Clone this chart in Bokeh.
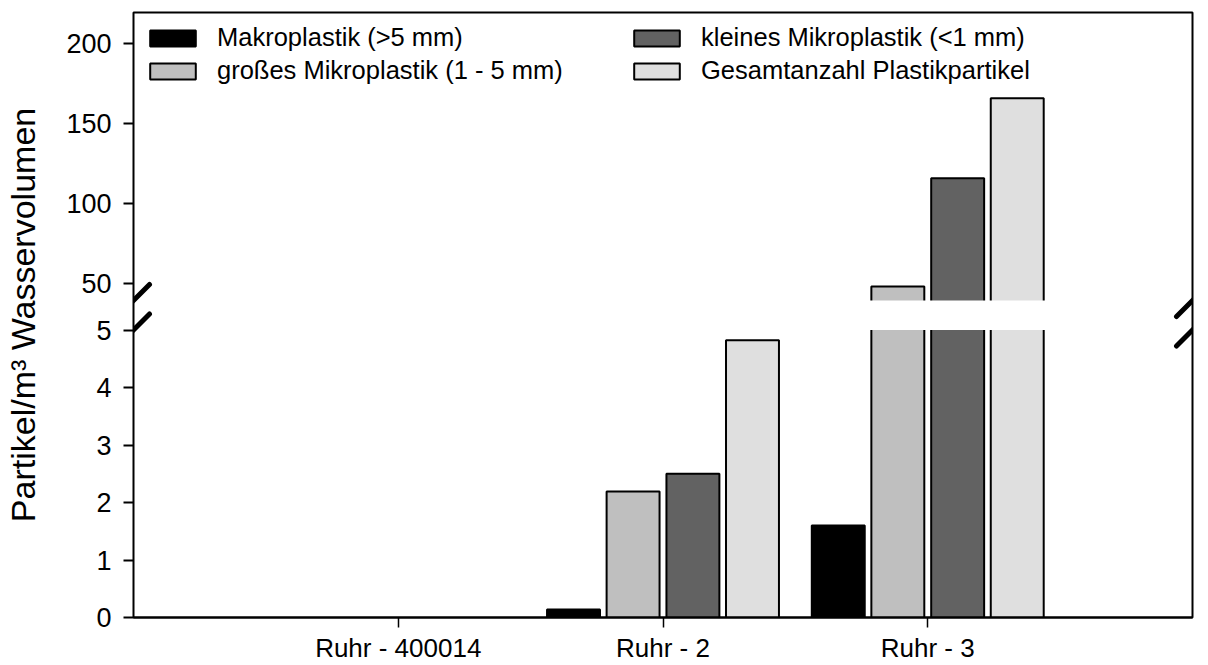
import numpy as np
from bokeh.plotting import figure
from bokeh.models import (Range1d, FixedTicker, BoxAnnotation, Arrow, Legend, LegendItem)
from bokeh.embed import file_html
from bokeh.resources import INLINE

# ---------------- data ----------------
categories = ["Ruhr - 400014", "Ruhr - 2", "Ruhr - 3"]
series_names = ["Makroplastik (>5 mm)", "großes Mikroplastik (1 - 5 mm)",
                "kleines Mikroplastik (<1 mm)", "Gesamtanzahl Plastikpartikel"]
makro = [0.0, 0.14, 1.6]
gross_mikro = [0.0, 2.19, 48.0]
klein_mikro = [0.0, 2.5, 115.6]
gesamt = [0.0, 4.82, 165.6]
lower_ticks = [0, 1, 2, 3, 4, 5]
upper_ticks = [50, 100, 150, 200]
y_label = "Partikel/m³ Wasservolumen"

# ---------------- style ----------------
FONT = "Liberation Sans"
colors = ["#000000", "#bfbfbf", "#626262", "#dfdfdf"]
offsets = [-0.338, -0.113, 0.113, 0.338]
bar_w = 0.2

# broken axis geometry (pixels of the frame)
FRAME_H = 605
FRAME_W = 1059
LO_PX = 57.5      # px per unit, lower segment
UP_PX = 1.6       # px per unit, upper segment
LO_MAX = 5.0
GAP = 29.5 / LO_PX
UP_BREAK = 39.2
lo_end = FRAME_H / LO_PX
up_start = UP_BREAK - (LO_MAX + GAP) * LO_PX / UP_PX
up_end = up_start + FRAME_H / UP_PX


def up_to_lo(u):
    return (u - up_start) * UP_PX / LO_PX


W, H = 1204, 665
p = figure(width=W, height=H, x_range=Range1d(0, 4), y_range=Range1d(0, lo_end),
           output_backend="svg", toolbar_location=None,
           min_border_left=133, min_border_right=W - 133 - FRAME_W,
           min_border_top=12, min_border_bottom=H - 12 - FRAME_H)
p.extra_y_ranges = {"upper": Range1d(up_start, up_end)}
p.background_fill_color = "white"
p.border_fill_color = "white"
p.xgrid.visible = False
p.ygrid.visible = False
p.outline_line_color = "black"
p.outline_line_width = 2
p.outline_line_alpha = 1.0

series = [makro, gross_mikro, klein_mikro, gesamt]
legend_renderers = []
for j, vals in enumerate(series):
    vals = np.array(vals, dtype=float)
    xs = np.arange(1, len(categories) + 1) + offsets[j]
    m = vals > 0
    lo_top = np.minimum(vals, LO_MAX + GAP / 2)
    r = p.vbar(x=xs[m], top=lo_top[m], bottom=0, width=bar_w,
               fill_color=colors[j], line_color="black", line_width=2)
    legend_renderers.append(r)
    m2 = vals > UP_BREAK
    if m2.any():
        p.vbar(x=xs[m2], top=vals[m2], bottom=UP_BREAK - 5, width=bar_w,
               fill_color=colors[j], line_color="black", line_width=2,
               y_range_name="upper")

# gap band (leave the frame border visible)
edge = 2.0 / (FRAME_W / 4)
p.add_layout(BoxAnnotation(bottom=LO_MAX, top=LO_MAX + GAP, left=edge, right=4 - edge,
                           fill_color="white", fill_alpha=1.0, line_color=None))

# break slashes
dx = 16 / (FRAME_W / 4)
dy = 16 / LO_PX
for xc in (0, 4):
    for yc in (LO_MAX, LO_MAX + GAP):
        p.add_layout(Arrow(end=None, x_start=xc - dx, y_start=yc - dy,
                           x_end=xc + dx, y_end=yc + dy,
                           line_width=5, line_cap="round", line_color="black",
                           level="overlay"))

# y axis
ya = p.yaxis[0]
up_pos = [round(up_to_lo(u), 6) for u in upper_ticks]
ya.ticker = FixedTicker(ticks=list(lower_ticks) + up_pos)
ov = {t: str(t) for t in lower_ticks}
ov.update({pos: str(u) for pos, u in zip(up_pos, upper_ticks)})
ya.major_label_overrides = ov
ya.axis_line_color = None
ya.major_tick_out = 10
ya.major_tick_in = 0
ya.minor_tick_out = 0
ya.minor_tick_in = 0
ya.major_tick_line_width = 2
ya.major_label_text_font = FONT
ya.major_label_text_font_size = "27px"
ya.major_label_text_color = "black"
ya.major_label_standoff = 12
ya.axis_label = y_label
ya.axis_label_text_font = FONT
ya.axis_label_text_font_size = "34px"
ya.axis_label_text_font_style = "normal"
ya.axis_label_text_color = "black"
ya.axis_label_standoff = 21

# x axis
xa = p.xaxis[0]
xa.ticker = FixedTicker(ticks=[1, 2, 3])
xa.major_label_overrides = {i + 1: c for i, c in enumerate(categories)}
xa.axis_line_width = 2
xa.axis_line_color = "black"
xa.major_tick_out = 10
xa.major_tick_in = 0
xa.minor_tick_out = 0
xa.minor_tick_in = 0
xa.major_tick_line_width = 1.5
xa.major_label_text_font = FONT
xa.major_label_text_font_size = "26px"
xa.major_label_text_color = "black"
xa.major_label_standoff = 5

# legends
def make_legend(idx, loc):
    items = [LegendItem(label=series_names[i], renderers=[legend_renderers[i]]) for i in idx]
    return Legend(items=items, location=loc, border_line_color=None,
                  background_fill_alpha=0, padding=0, margin=0,
                  glyph_width=57, glyph_height=20, label_standoff=16, spacing=4,
                  label_text_font=FONT, label_text_font_size="25.5px",
                  label_text_color="black")

p.add_layout(make_legend([0, 1], (11, 532)))
p.add_layout(make_legend([2, 3], (495, 532)))

open("out.html", "w").write(file_html(p, INLINE))
